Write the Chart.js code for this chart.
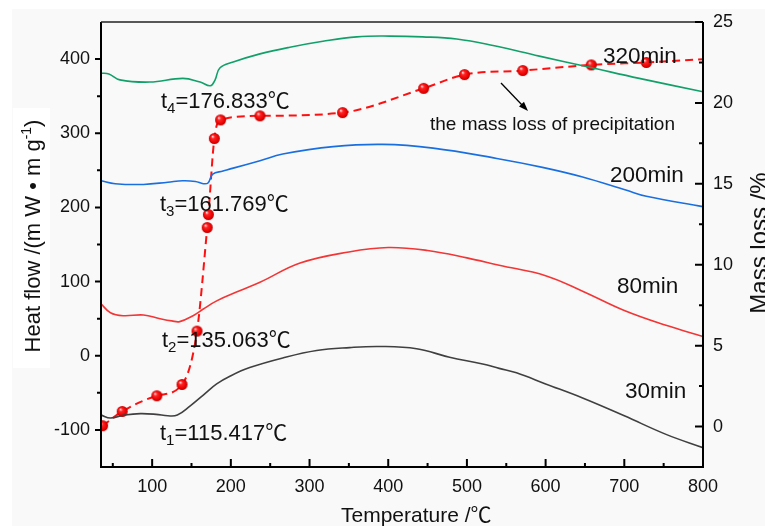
<!DOCTYPE html>
<html><head><meta charset="utf-8">
<script src="https://cdn.jsdelivr.net/npm/chart.js@4.4.0/dist/chart.umd.min.js"></script>
<style>html,body{margin:0;padding:0;background:#fff;}#wrap{width:765px;height:526px;}</style>
</head><body><div id="wrap"><canvas id="c" width="765" height="526"></canvas></div>
<script>
// ---- data ----
const temp30 = [35, 47, 65, 85, 105, 120, 132, 148, 165, 182, 200, 224, 266, 309, 351, 389, 436, 478, 520, 541, 563, 600, 647, 700, 753, 800];
const heat30 = [-80, -84, -80, -78, -79, -81, -80, -68, -53, -38, -27, -16, -3, 7, 11, 12.5, 9.5, -2, -11, -17, -23, -38, -57, -81, -106, -124];

const temp80 = [35, 47, 63, 89, 110, 125, 135, 152, 165, 182, 212, 237, 288, 350, 400, 450, 500, 541, 600, 647, 700, 753, 800];
const heat80 = [70, 58, 54, 55, 50, 47, 46, 54, 63, 74, 88, 99, 125, 140, 146, 142, 132, 122, 108, 87, 61, 41, 26];

const temp200 = [35, 53, 89, 120, 139, 155, 165, 171, 177, 190, 203, 237, 266, 330, 393, 457, 538, 596, 647, 703, 728, 800];
const heat200 = [236, 232, 231, 234, 236, 235, 232, 233, 245, 249, 253, 263, 272, 282, 285, 280, 266, 254, 241, 223, 215, 201];

const temp320 = [35, 45, 59, 97, 139, 161, 174, 180, 186, 203, 237, 275, 317, 360, 402, 444, 487, 530, 592, 656, 719, 800];
const heat320 = [381, 380, 372, 369, 374, 369, 364, 372, 388, 396, 407, 416, 424, 430, 431, 430, 427, 419, 404, 389, 374, 356];

const tempMass = [37, 62, 106, 138, 157, 170, 171.5, 179, 187, 237, 342, 445, 497, 571, 658, 728, 800];
const massLoss = [0.05, 0.93, 1.9, 2.6, 5.9, 12.3, 13.1, 17.8, 18.95, 19.2, 19.4, 20.9, 21.75, 22.0, 22.35, 22.5, 22.7];

const xTicks = [100, 200, 300, 400, 500, 600, 700, 800];
const xMinor = [50, 150, 250, 350, 450, 550, 650, 750];
const leftTicks = [-100, 0, 100, 200, 300, 400];
const leftMinor = [-50, 50, 150, 250, 350];
const rightTicks = [0, 5, 10, 15, 20, 25];
const rightMinor = [2.5, 7.5, 12.5, 17.5, 22.5];

const seriesNames = ['30min', '80min', '200min', '320min'];
const tLabels = [['1', '=115.417℃'], ['2', '=135.063℃'], ['3', '=161.769℃'], ['4', '=176.833℃']];
const massNote = 'the mass loss of precipitation';
const xTitle = 'Temperature /℃';
const yTitle = ['Heat flow /(m W • m g', '-1', ')'];
const y1Title = 'Mass loss /%';

// ---- rendering ----
const FONT = '"Liberation Sans", Arial, "Noto Sans CJK SC", sans-serif';
const pts = (xs, ys) => xs.map((x, i) => ({x: x, y: ys[i]}));

function sphere(r) {
  const s = Math.ceil(r * 2 + 2);
  const c = document.createElement('canvas'); c.width = s; c.height = s;
  const g = c.getContext('2d'); const cx = s / 2, cy = s / 2;
  const grad = g.createRadialGradient(cx - r * 0.35, cy - r * 0.4, r * 0.05, cx, cy, r);
  grad.addColorStop(0, '#ffe0e0'); grad.addColorStop(0.3, '#ff2424');
  grad.addColorStop(0.8, '#e80000'); grad.addColorStop(1, '#b00000');
  g.fillStyle = grad; g.beginPath(); g.arc(cx, cy, r, 0, Math.PI * 2); g.fill();
  return c;
}
const dot = sphere(5.5);

const decor = {
  id: 'decor',
  beforeDraw(chart) {
    const ctx = chart.ctx;
    ctx.save();
    ctx.fillStyle = '#ffffff'; ctx.fillRect(0, 0, 765, 526);
    ctx.fillStyle = '#f9f9f9'; ctx.fillRect(12, 9, 765, 526);
    ctx.fillStyle = '#ffffff'; ctx.fillRect(13, 108, 37, 260);
    ctx.restore();
  },
  afterDatasetsDraw(chart) {
    const {ctx, chartArea: a, scales} = chart;
    ctx.save();
    // frame
    ctx.strokeStyle = '#000'; ctx.lineWidth = 2;
    ctx.beginPath();
    ctx.moveTo(a.left, a.top); ctx.lineTo(a.left, a.bottom); ctx.lineTo(a.right, a.bottom); ctx.lineTo(a.right, a.top);
    ctx.stroke();
    ctx.lineWidth = 1.5; ctx.strokeStyle = '#222';
    ctx.beginPath(); ctx.moveTo(a.left, a.top); ctx.lineTo(a.right, a.top); ctx.stroke();
    ctx.lineWidth = 2; ctx.strokeStyle = '#000';
    ctx.beginPath();
    xTicks.forEach(v => { const p = scales.x.getPixelForValue(v); ctx.moveTo(p, a.bottom); ctx.lineTo(p, a.bottom - 8); });
    xMinor.forEach(v => { const p = scales.x.getPixelForValue(v); ctx.moveTo(p, a.bottom); ctx.lineTo(p, a.bottom - 4); });
    leftTicks.forEach(v => { const p = scales.y.getPixelForValue(v); ctx.moveTo(a.left, p); ctx.lineTo(a.left - 6, p); });
    leftMinor.forEach(v => { const p = scales.y.getPixelForValue(v); ctx.moveTo(a.left, p); ctx.lineTo(a.left - 4, p); });
    rightTicks.forEach(v => { const p = scales.y1.getPixelForValue(v); ctx.moveTo(a.right, p); ctx.lineTo(a.right - 8, p); });
    rightMinor.forEach(v => { const p = scales.y1.getPixelForValue(v); ctx.moveTo(a.right, p); ctx.lineTo(a.right - 4, p); });
    ctx.stroke();

    ctx.fillStyle = '#111';
    ctx.textBaseline = 'alphabetic'; ctx.textAlign = 'left';
    // t labels
    const tPos = [[160, 440], [162, 347], [160, 211], [161, 108]];
    tLabels.forEach((t, i) => {
      let [x, y] = tPos[i];
      ctx.font = '22px ' + FONT; ctx.fillText('t', x, y); x += ctx.measureText('t').width;
      ctx.font = '15px ' + FONT; ctx.fillText(t[0], x, y + 5); x += ctx.measureText(t[0]).width;
      ctx.font = '22px ' + FONT; ctx.fillText(t[1], x, y);
    });
    // series names
    const nPos = [[625, 398], [617, 293], [610, 182], [603, 63]];
    ctx.font = '22.5px ' + FONT;
    seriesNames.forEach((n, i) => ctx.fillText(n, nPos[i][0], nPos[i][1]));
    // mass note + arrow
    ctx.font = '19px ' + FONT; ctx.textAlign = 'right';
    ctx.fillText(massNote, 675, 130);
    ctx.strokeStyle = '#000'; ctx.lineWidth = 1.3;
    ctx.beginPath(); ctx.moveTo(501, 83); ctx.lineTo(523, 106); ctx.stroke();
    const ang = Math.atan2(106 - 83, 523 - 501);
    ctx.fillStyle = '#000';
    ctx.beginPath();
    ctx.moveTo(528, 111);
    ctx.lineTo(528 - 10 * Math.cos(ang - 0.35), 111 - 10 * Math.sin(ang - 0.35));
    ctx.lineTo(528 - 10 * Math.cos(ang + 0.35), 111 - 10 * Math.sin(ang + 0.35));
    ctx.closePath(); ctx.fill();

    // axis titles
    ctx.fillStyle = '#111';
    ctx.textAlign = 'left'; ctx.font = '21px ' + FONT;
    ctx.fillText(xTitle, 341, 522);
    // left title rotated
    ctx.save();
    ctx.translate(40, 236); ctx.rotate(-Math.PI / 2);
    ctx.font = '22px ' + FONT;
    const w0 = ctx.measureText(yTitle[0]).width;
    ctx.font = '14px ' + FONT; const w1 = ctx.measureText(yTitle[1]).width;
    ctx.font = '22px ' + FONT; const w2 = ctx.measureText(yTitle[2]).width;
    let sx = -(w0 + w1 + w2) / 2;
    ctx.fillText(yTitle[0], sx, 0); sx += w0;
    ctx.font = '14px ' + FONT; ctx.fillText(yTitle[1], sx, -9); sx += w1;
    ctx.font = '22px ' + FONT; ctx.fillText(yTitle[2], sx, 0);
    ctx.restore();
    // right title rotated (clipped by edge)
    ctx.save();
    ctx.translate(767, 243); ctx.rotate(-Math.PI / 2);
    ctx.font = '24px ' + FONT; ctx.textAlign = 'center';
    ctx.fillText(y1Title, 0, 0);
    ctx.restore();
    ctx.restore();
  }
};

const lineBase = {pointRadius: 0, borderWidth: 1.6, tension: 0.4, fill: false};

new Chart(document.getElementById('c'), {
  type: 'line',
  data: {
    datasets: [
      Object.assign({label: seriesNames[0], data: pts(temp30, heat30), borderColor: '#404040', yAxisID: 'y'}, lineBase),
      Object.assign({label: seriesNames[1], data: pts(temp80, heat80), borderColor: '#f23636', yAxisID: 'y'}, lineBase),
      Object.assign({label: seriesNames[2], data: pts(temp200, heat200), borderColor: '#1a6fe0', yAxisID: 'y'}, lineBase),
      Object.assign({label: seriesNames[3], data: pts(temp320, heat320), borderColor: '#12a06a', yAxisID: 'y'}, lineBase),
      {label: 'mass', data: pts(tempMass, massLoss), yAxisID: 'y1', borderColor: '#ff1010', borderWidth: 2,
       borderDash: [8, 5], tension: 0.3, cubicInterpolationMode: 'monotone', fill: false,
       pointStyle: dot, pointRadius: (c) => c.dataIndex === massLoss.length - 1 ? 0 : 5.5}
    ]
  },
  options: {
    responsive: false, animation: false, devicePixelRatio: 1,
    layout: {padding: {top: 22, left: 0, right: 0, bottom: 0}},
    plugins: {legend: {display: false}, tooltip: {enabled: false}},
    scales: {
      x: {type: 'linear', min: 35, max: 800,
        afterBuildTicks: s => { s.ticks = xTicks.map(v => ({value: v})); },
        afterFit: s => { s.height = 59; },
        grid: {display: false, drawTicks: false}, border: {display: false},
        ticks: {padding: 9, color: '#111', font: {family: FONT, size: 18}, maxRotation: 0}},
      y: {type: 'linear', position: 'left', min: -150, max: 450,
        afterBuildTicks: s => { s.ticks = leftTicks.map(v => ({value: v})); },
        afterFit: s => { s.width = 101; },
        grid: {display: false, drawTicks: false}, border: {display: false},
        ticks: {padding: 11, color: '#111', font: {family: FONT, size: 18}}},
      y1: {type: 'linear', position: 'right', min: -2.5, max: 25,
        afterBuildTicks: s => { s.ticks = rightTicks.map(v => ({value: v})); },
        afterFit: s => { s.width = 62; },
        grid: {display: false, drawTicks: false}, border: {display: false},
        ticks: {padding: 10, color: '#111', font: {family: FONT, size: 18}}}
    }
  },
  plugins: [decor]
});
</script></body></html>
